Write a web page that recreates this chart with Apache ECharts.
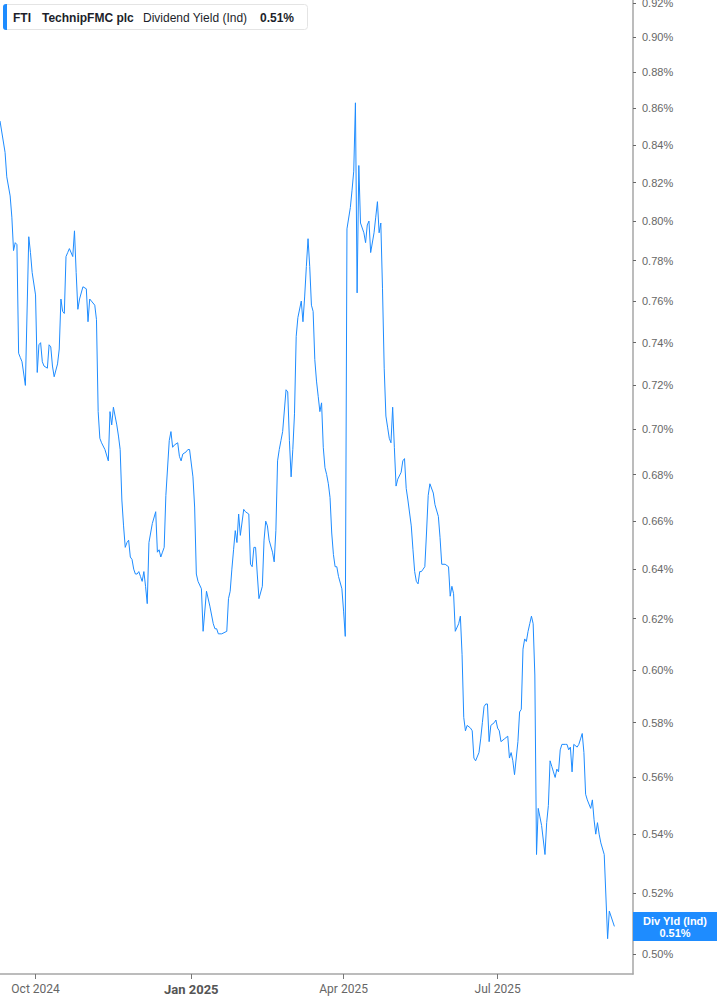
<!DOCTYPE html>
<html>
<head>
<meta charset="utf-8">
<script src="https://cdn.jsdelivr.net/npm/echarts@6/dist/echarts.min.js"></script>
<style>
html,body{margin:0;padding:0;background:#fff;}
#chart{width:717px;height:1005px;}
</style>
</head>
<body>
<div id="chart"></div>
<script>
// ---- data ----
const dates = [
'2024-09-10','2024-09-13','2024-09-14','2024-09-16','2024-09-17','2024-09-18','2024-09-19','2024-09-20','2024-09-21','2024-09-22',
'2024-09-23','2024-09-25','2024-09-27','2024-09-28','2024-09-29','2024-10-01','2024-10-02','2024-10-03','2024-10-04','2024-10-05',
'2024-10-06','2024-10-08','2024-10-09','2024-10-10','2024-10-11','2024-10-12','2024-10-14','2024-10-15','2024-10-16','2024-10-17',
'2024-10-18','2024-10-19','2024-10-20','2024-10-21','2024-10-23','2024-10-24','2024-10-25','2024-10-26','2024-10-27','2024-10-29',
'2024-10-31','2024-11-01','2024-11-02','2024-11-03','2024-11-05','2024-11-06','2024-11-07','2024-11-08','2024-11-09','2024-11-11',
'2024-11-13','2024-11-14','2024-11-15','2024-11-16','2024-11-17','2024-11-18','2024-11-19','2024-11-20','2024-11-21','2024-11-22',
'2024-11-23','2024-11-24','2024-11-25','2024-11-26','2024-11-27','2024-11-28','2024-11-29','2024-11-30','2024-12-01','2024-12-02',
'2024-12-03','2024-12-04','2024-12-05','2024-12-06','2024-12-07','2024-12-08','2024-12-09','2024-12-11','2024-12-12','2024-12-13',
'2024-12-14','2024-12-15','2024-12-16','2024-12-17','2024-12-19','2024-12-20','2024-12-21','2024-12-22','2024-12-24','2024-12-25',
'2024-12-26','2024-12-27','2024-12-29','2024-12-30','2024-12-31','2025-01-02','2025-01-03','2025-01-04','2025-01-05','2025-01-07',
'2025-01-08','2025-01-10','2025-01-12','2025-01-14','2025-01-15','2025-01-16','2025-01-17','2025-01-19','2025-01-22','2025-01-23',
'2025-01-24','2025-01-25','2025-01-26','2025-01-27','2025-01-28','2025-01-29','2025-01-30','2025-02-01','2025-02-02','2025-02-04',
'2025-02-05','2025-02-06','2025-02-07','2025-02-08','2025-02-09','2025-02-10','2025-02-12','2025-02-13','2025-02-14','2025-02-15',
'2025-02-16','2025-02-18','2025-02-19','2025-02-20','2025-02-21','2025-02-22','2025-02-23','2025-02-24','2025-02-26','2025-02-27',
'2025-02-28','2025-03-01','2025-03-02','2025-03-03','2025-03-04','2025-03-05','2025-03-07','2025-03-08','2025-03-09','2025-03-10',
'2025-03-11','2025-03-12','2025-03-13','2025-03-14','2025-03-15','2025-03-16','2025-03-17','2025-03-18','2025-03-19','2025-03-20',
'2025-03-21','2025-03-22','2025-03-23','2025-03-24','2025-03-25','2025-03-26','2025-03-27','2025-03-28','2025-03-29','2025-03-31',
'2025-04-01','2025-04-02','2025-04-03','2025-04-05','2025-04-06','2025-04-07','2025-04-08','2025-04-09','2025-04-10','2025-04-11',
'2025-04-13','2025-04-14','2025-04-15','2025-04-16','2025-04-17','2025-04-19','2025-04-20','2025-04-21','2025-04-22','2025-04-23',
'2025-04-24','2025-04-25','2025-04-26','2025-04-27','2025-04-28','2025-04-29','2025-04-30','2025-05-01','2025-05-02','2025-05-03',
'2025-05-05','2025-05-06','2025-05-07','2025-05-08','2025-05-09','2025-05-11','2025-05-12','2025-05-13','2025-05-14','2025-05-15',
'2025-05-16','2025-05-17','2025-05-18','2025-05-19','2025-05-20','2025-05-21','2025-05-22','2025-05-24','2025-05-25','2025-05-27',
'2025-05-28','2025-05-29','2025-05-31','2025-06-02','2025-06-03','2025-06-04','2025-06-05','2025-06-06','2025-06-08','2025-06-09',
'2025-06-10','2025-06-11','2025-06-12','2025-06-13','2025-06-15','2025-06-16','2025-06-17','2025-06-18','2025-06-20','2025-06-21',
'2025-06-22','2025-06-23','2025-06-24','2025-06-25','2025-06-26','2025-06-27','2025-06-29','2025-06-30','2025-07-01','2025-07-02',
'2025-07-03','2025-07-05','2025-07-07','2025-07-08','2025-07-09','2025-07-10','2025-07-11','2025-07-13','2025-07-14','2025-07-15',
'2025-07-16','2025-07-17','2025-07-18','2025-07-19','2025-07-20','2025-07-21','2025-07-22','2025-07-23','2025-07-24','2025-07-25',
'2025-07-26','2025-07-27','2025-07-29','2025-07-30','2025-07-31','2025-08-01','2025-08-02','2025-08-03','2025-08-04','2025-08-05',
'2025-08-06','2025-08-07','2025-08-08','2025-08-10','2025-08-11','2025-08-12','2025-08-13','2025-08-14','2025-08-15','2025-08-17',
'2025-08-18','2025-08-19','2025-08-20','2025-08-21','2025-08-22','2025-08-23','2025-08-25','2025-08-26','2025-08-27','2025-08-28',
'2025-08-29','2025-08-30','2025-08-31','2025-09-02','2025-09-04','2025-09-05','2025-09-08'
];
const yields = [
0.853,0.836,0.823,0.813,0.802,0.785,0.789,0.788,0.735,0.733,
0.731,0.720,0.792,0.784,0.774,0.763,0.726,0.739,0.740,0.731,
0.729,0.728,0.739,0.738,0.729,0.724,0.730,0.737,0.761,0.755,
0.754,0.782,0.784,0.786,0.782,0.795,0.774,0.756,0.761,0.767,
0.766,0.750,0.761,0.760,0.758,0.751,0.708,0.696,0.694,0.691,
0.686,0.708,0.702,0.710,0.706,0.702,0.697,0.691,0.669,0.658,
0.649,0.651,0.652,0.645,0.644,0.640,0.638,0.638,0.639,0.637,
0.635,0.639,0.633,0.626,0.651,0.655,0.659,0.664,0.647,0.648,
0.645,0.647,0.649,0.671,0.695,0.699,0.692,0.693,0.694,0.688,
0.686,0.689,0.690,0.691,0.691,0.679,0.666,0.638,0.635,0.632,
0.615,0.631,0.625,0.618,0.616,0.616,0.614,0.614,0.615,0.628,
0.631,0.640,0.648,0.656,0.651,0.663,0.654,0.665,0.664,0.663,
0.642,0.641,0.649,0.649,0.638,0.628,0.633,0.652,0.660,0.658,
0.652,0.647,0.643,0.656,0.686,0.691,0.695,0.699,0.718,0.717,
0.695,0.679,0.691,0.707,0.743,0.752,0.760,0.750,0.762,0.777,
0.791,0.777,0.758,0.755,0.732,0.722,0.715,0.708,0.712,0.692,
0.683,0.680,0.676,0.670,0.655,0.646,0.641,0.641,0.637,0.632,
0.623,0.613,0.796,0.807,0.816,0.826,0.863,0.764,0.829,0.799,
0.794,0.789,0.798,0.800,0.784,0.794,0.802,0.810,0.794,0.799,
0.766,0.728,0.706,0.701,0.696,0.694,0.710,0.692,0.675,0.678,
0.681,0.686,0.687,0.674,0.669,0.658,0.648,0.639,0.635,0.634,
0.639,0.639,0.640,0.641,0.655,0.671,0.676,0.672,0.667,0.662,
0.653,0.642,0.642,0.641,0.629,0.633,0.630,0.615,0.618,0.621,
0.606,0.582,0.577,0.579,0.578,0.577,0.567,0.566,0.569,0.574,
0.580,0.586,0.587,0.587,0.573,0.579,0.580,0.581,0.578,0.577,
0.573,0.574,0.575,0.567,0.569,0.566,0.561,0.573,0.584,0.585,
0.608,0.612,0.611,0.615,0.618,0.621,0.618,0.598,0.533,0.549,
0.546,0.543,0.533,0.544,0.550,0.566,0.564,0.562,0.560,0.563,
0.562,0.570,0.572,0.572,0.572,0.570,0.571,0.562,0.572,0.571,
0.572,0.574,0.576,0.569,0.554,0.552,0.549,0.552,0.545,0.540,
0.544,0.540,0.537,0.533,0.505,0.514,0.509
];
const yTickValues = [0.50,0.52,0.54,0.56,0.58,0.60,0.62,0.64,0.66,0.68,0.70,0.72,0.74,0.76,0.78,0.80,0.82,0.84,0.86,0.88,0.90,0.92];
const xTickDates = ['2024-10-01','2025-01-01','2025-04-01','2025-07-01'];
const xTickLabels = ['Oct 2024','Jan 2025','Apr 2025','Jul 2025'];
const xRange = ['2024-09-10','2025-09-19'];
const ticker = 'FTI';
const company = 'TechnipFMC plc';
const metric = 'Dividend Yield (Ind)';
const shortMetric = 'Div Yld (Ind)';

// ---- chart ----
const BLUE = '#1e8cff';
const toTime = s => { const p = s.split('-'); return Date.UTC(+p[0], +p[1] - 1, +p[2]); };
const xTickTimes = xTickDates.map(toTime);
const lastVal = yields[yields.length - 1];
const lastText = lastVal.toFixed(2) + '%';
const chart = echarts.init(document.getElementById('chart'), null, {renderer: 'svg', width: 717, height: 1005});

chart.setOption({
  animation: false,
  grid: {left: 0, right: 84, top: 0, bottom: 31, containLabel: false, outerBoundsMode: 'none'},
  xAxis: {
    type: 'value',
    min: toTime(xRange[0]),
    max: toTime(xRange[1]),
    axisLine: {show: true, onZero: false, lineStyle: {color: '#a6a6a6', width: 1.5}},
    axisTick: {show: true, customValues: xTickTimes, length: 5, lineStyle: {color: '#777', width: 1}},
    axisLabel: {
      customValues: xTickTimes,
      margin: 9,
      hideOverlap: false,
      formatter: function (v) {
        let i = 0, best = Infinity;
        xTickTimes.forEach((t, k) => { const dd = Math.abs(t - v); if (dd < best) { best = dd; i = k; } });
        const txt = xTickLabels[i];
        return xTickDates[i].slice(5, 7) === '01' ? '{b|' + txt + '}' : '{n|' + txt + '}';
      },
      rich: {
        b: {fontFamily: 'Roboto, "Liberation Sans", sans-serif', fontSize: 13, fontWeight: 'bold', color: '#555'},
        n: {fontFamily: 'Roboto, "Liberation Sans", sans-serif', fontSize: 12, color: '#666'}
      }
    },
    splitLine: {show: false}
  },
  yAxis: {
    type: 'value',
    position: 'right',
    min: Math.log(0.4937),
    max: Math.log(0.9218),
    axisLine: {show: true, onZero: false, lineStyle: {color: '#a6a6a6', width: 1.5}},
    axisTick: {show: true, customValues: yTickValues.map(Math.log), length: 3, lineStyle: {color: '#666', width: 1}},
    axisLabel: {
      customValues: yTickValues.map(Math.log),
      margin: 9,
      fontFamily: '"Liberation Sans", Arial, sans-serif',
      fontSize: 11,
      color: '#666',
      formatter: v => Math.exp(v).toFixed(2) + '%'
    },
    splitLine: {show: false}
  },
  series: [{
    type: 'line',
    data: dates.map((d, i) => [toTime(d), Math.log(yields[i])]),
    showSymbol: false,
    symbol: 'none',
    lineStyle: {color: BLUE, width: 1},
    silent: true
  }]
});

const yPix = chart.convertToPixel({yAxisIndex: 0}, Math.log(lastVal));
const hdrFont = '"Liberation Sans", Arial, sans-serif';
chart.setOption({
  graphic: [
    {type: 'rect', id: 'hdrBox', shape: {x: 3.5, y: 4.5, width: 304, height: 25, r: 3},
     style: {fill: '#fff', stroke: '#e4e4e4', lineWidth: 1}, z: 100},
    {type: 'rect', id: 'hdrBar', shape: {x: 3, y: 4, width: 4, height: 26, r: [3, 0, 0, 3]},
     style: {fill: BLUE}, z: 101},
    {type: 'text', id: 't1', x: 13, y: 17.5, style: {text: ticker, font: 'bold 12px ' + hdrFont, fill: '#1d1f2b', verticalAlign: 'middle'}, z: 101},
    {type: 'text', id: 't2', x: 42, y: 17.5, style: {text: company, font: 'bold 12px ' + hdrFont, fill: '#1d1f2b', verticalAlign: 'middle'}, z: 101},
    {type: 'text', id: 't3', x: 143, y: 17.5, style: {text: metric, font: '12px ' + hdrFont, fill: '#1d1f2b', verticalAlign: 'middle'}, z: 101},
    {type: 'text', id: 't4', x: 260, y: 17.5, style: {text: lastText, font: 'bold 12px ' + hdrFont, fill: '#1d1f2b', verticalAlign: 'middle'}, z: 101},
    {type: 'rect', id: 'tagBox', shape: {x: 633, y: yPix - 14.5, width: 84, height: 29},
     style: {fill: BLUE}, z: 100},
    {type: 'text', id: 'tag1', x: 675, y: yPix - 5, style: {text: shortMetric, font: 'bold 11px ' + hdrFont, fill: '#fff', align: 'center', verticalAlign: 'middle'}, z: 101},
    {type: 'text', id: 'tag2', x: 675, y: yPix + 6.5, style: {text: lastText, font: 'bold 11px ' + hdrFont, fill: '#fff', align: 'center', verticalAlign: 'middle'}, z: 101}
  ]
});
</script>
</body>
</html>
